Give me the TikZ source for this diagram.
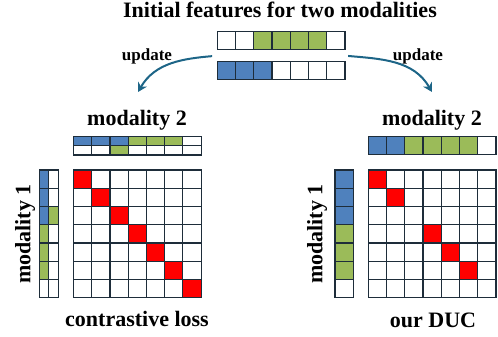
\documentclass[tikz,border=0pt]{standalone}
\usepackage{fontspec}
\setmainfont{Liberation Serif}
\usetikzlibrary{arrows.meta, positioning, fit, calc}

\definecolor{featblue}{HTML}{4F81BD}
\definecolor{featgreen}{HTML}{9BBB59}
\definecolor{gridline}{HTML}{1E2D3A}
\definecolor{arrowteal}{HTML}{1D6587}

\begin{document}
\begin{tikzpicture}[
    x=1pt, y=-1pt,
    % Styles
    cell/.style={
        rectangle, draw=gridline, fill=#1, line width=1.1pt,
        minimum width=18.24pt, minimum height=18.24pt,
        inner sep=0pt, outer sep=0pt, anchor=north west
    },
    cell/.default=white,
    flatcell/.style={cell=#1, minimum height=9.15pt},
    flatcell/.default=white,
    thincell/.style={cell=#1, minimum width=9.5pt},
    thincell/.default=white,
    heading/.style={
        font=\bfseries\fontsize{22}{24}\selectfont, anchor=base, inner sep=0pt
    },
    axisname/.style={
        font=\bfseries\fontsize{22}{24}\selectfont, inner sep=0pt
    },
    updtext/.style={
        font=\bfseries\fontsize{17}{19}\selectfont, anchor=base, inner sep=0pt
    },
    update/.style={
        -{Stealth[length=9pt, width=10pt]}, line width=2pt, draw=arrowteal
    }
]
\useasboundingbox (0,0) rectangle (498,337);

% Title
\node[heading] (title) at (280, 17.5) {Initial features for two modalities};

% ── Initial features ────────────────────────────────────────────────────────
\foreach \c [count=\i from 0] in {white,white,featgreen,featgreen,featgreen,featgreen,white}
    \node[cell=\c, minimum height=17.8pt] (fa-\i) at (217.3+\i*18.24, 31.7) {};
\foreach \c [count=\i from 0] in {featblue,featblue,featblue,white,white,white,white}
    \node[cell=\c, minimum height=17.8pt] (fb-\i) at (217.3+\i*18.24, 61.9) {};
\node[fit=(fa-0)(fb-6), inner sep=0pt] (features) {};

% ── Left panel: contrastive loss ───────────────────────────────────────────
\node[heading] (l-mod2) at (137, 125) {modality 2};
\node[axisname, rotate=90] (l-mod1) at (25, 234) {modality 1};
\node[heading] (l-name) at (137, 326) {contrastive loss};

\foreach \c [count=\i from 0] in {featblue,featblue,featblue,featgreen,featgreen,featgreen,white}
    \node[flatcell=\c] (lta-\i) at (73.5+\i*18.24, 136.7) {};
\foreach \c [count=\i from 0] in {white,white,featgreen,white,white,white,white}
    \node[flatcell=\c] (ltb-\i) at (73.5+\i*18.24, 145.85) {};

\foreach \c [count=\i from 0] in {featblue,featblue,featblue,featgreen,featgreen,featgreen,white}
    \node[thincell=\c] (lsa-\i) at (39.3, 170+\i*18.24) {};
\foreach \c [count=\i from 0] in {white,white,featgreen,white,white,white,white}
    \node[thincell=\c] (lsb-\i) at (48.8, 170+\i*18.24) {};

\foreach \r in {0,...,6}
    \foreach \c in {0,...,6}
        \node[cell] (lm-\r-\c) at (73.5+\c*18.24, 170+\r*18.24) {};
\foreach \k in {0,...,6}
    \node[cell=red] (ld-\k) at (73.5+\k*18.24, 170+\k*18.24) {};

% ── Right panel: our DUC ───────────────────────────────────────────────────
\node[heading] (r-mod2) at (432, 125) {modality 2};
\node[axisname, rotate=90] (r-mod1) at (317, 234) {modality 1};
\node[heading] (r-name) at (433, 327) {our DUC};

\foreach \c [count=\i from 0] in {featblue,featblue,featgreen,featgreen,featgreen,featgreen,white}
    \node[cell=\c] (rt-\i) at (368.3+\i*18.24, 136.7) {};

\foreach \c [count=\i from 0] in {featblue,featblue,featblue,featgreen,featgreen,featgreen,white}
    \node[cell=\c] (rs-\i) at (335, 170+\i*18.24) {};

\foreach \r in {0,...,6}
    \foreach \c in {0,...,6}
        \node[cell] (rm-\r-\c) at (368.3+\c*18.24, 170+\r*18.24) {};
\foreach \k in {0,1,3,4,5}
    \node[cell=red] (rd-\k) at (368.3+\k*18.24, 170+\k*18.24) {};

% ── Update arrows ───────────────────────────────────────────────────────────
\coordinate (l-tip) at (138, 92);
\coordinate (r-tip) at (432, 92);
\node[updtext] (l-upd) at (147, 61) {update};
\node[updtext] (r-upd) at (418, 61) {update};

\draw[update, shorten <=5pt] (features.west) to[out=185, in=60] (l-tip);
\draw[update, shorten <=3pt] (features.east) to[out=-5, in=120] (r-tip);

\end{tikzpicture}
\end{document}
